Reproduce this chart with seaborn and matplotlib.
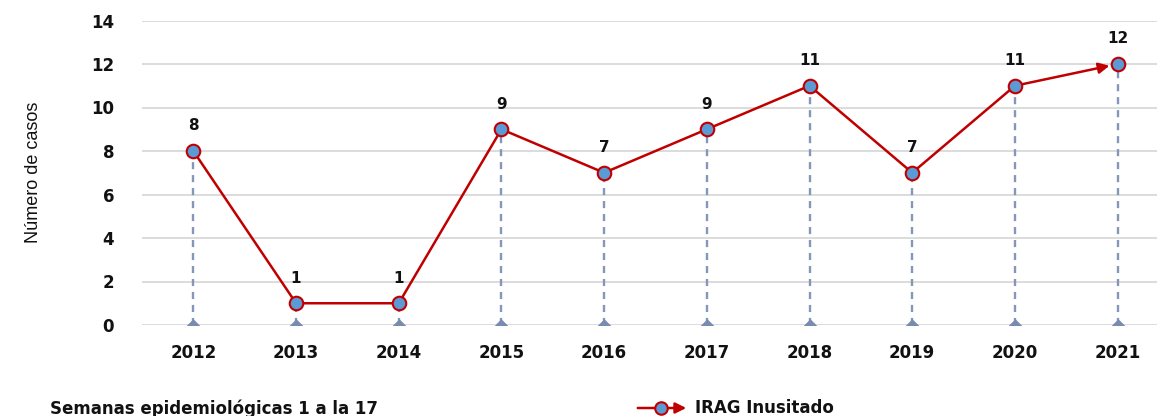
import matplotlib
matplotlib.use("Agg")
import matplotlib.pyplot as plt
import seaborn as sns
import pandas as pd

years = ["2012", "2013", "2014", "2015", "2016", "2017", "2018", "2019", "2020", "2021"]
casos = [8, 1, 1, 9, 7, 9, 11, 7, 11, 12]
y_ticks = [0, 2, 4, 6, 8, 10, 12, 14]
series_name = "IRAG Inusitado"

sns.set_theme(style="white")
plt.rcParams['font.family'] = ['DejaVu Sans']

W, H = 1157, 416
fig = plt.figure(figsize=(W / 100, H / 100), dpi=100)
ax = fig.add_axes([142 / W, (H - 325) / H, (1169 - 142) / W, (325 - 20.5) / H])

df = pd.DataFrame({"pos": range(len(years)), "casos": casos})
red = "#C00000"
blue = "#5B9BD5"
drop = "#8497B8"
txt = "#111111"

for yt in y_ticks:
    ax.axhline(yt, color="#D9D9D9", lw=1.3, zorder=0)

ax.vlines(df["pos"], 0, df["casos"], colors=drop, linestyles=(0, (3, 2.5)), lw=1.7, zorder=1)
flat_tri = [(-2, -1), (2, -1), (0, 1), (-2, -1)]
ax.scatter(df["pos"], [0] * len(df), marker=flat_tri, s=330, color="#7A8BB0", zorder=2, linewidths=0)

sns.lineplot(data=df.iloc[:-1], x="pos", y="casos", color=red, lw=1.8, ax=ax, zorder=3)
ax.annotate("", xy=(df["pos"].iloc[-1], casos[-1]), xytext=(df["pos"].iloc[-2], casos[-2]),
            arrowprops=dict(arrowstyle="-|>", color=red, lw=1.8, mutation_scale=16, shrinkA=0, shrinkB=6),
            zorder=3)
sns.scatterplot(data=df, x="pos", y="casos", marker="o", s=95, color=blue,
                edgecolor=red, linewidth=1.5, ax=ax, zorder=4, legend=False)

for x, v in zip(df["pos"], casos):
    ax.text(x, v + 1.15, str(v), ha="center", va="center", fontsize=11, fontweight="bold", color=txt)

ax.set_xlim(-0.5, len(years) - 0.5)
ax.set_ylim(0, 14)
ax.set_xticks(range(len(years)))
ax.set_xticklabels(years, fontsize=12, fontweight="bold", color=txt)
ax.set_yticks(y_ticks)
ax.set_yticklabels([str(t) for t in y_ticks], fontsize=12, fontweight="bold", color=txt)
ax.tick_params(axis="x", pad=14, length=0)
ax.tick_params(axis="y", pad=20, length=0)
ax.set_xlabel("")
ax.set_ylabel("Número de casos", fontsize=13, family=["Liberation Sans", "DejaVu Sans"],
              color=txt, labelpad=35)
for s in ax.spines.values():
    s.set_visible(False)

fig.text(50 / W, 1 - 409 / H, "Semanas epidemiológicas 1 a la 17", fontsize=12, fontweight="bold",
         color=txt, va="center", ha="left")

# legend (drawn in figure pixel coordinates)
ly = 1 - 408 / H
fig.add_artist(matplotlib.patches.FancyArrowPatch((635 / W, ly), (689 / W, ly), transform=fig.transFigure,
                                                  arrowstyle="-|>", mutation_scale=16, color=red, lw=1.8))
fig.add_artist(matplotlib.lines.Line2D([661 / W], [ly], transform=fig.transFigure, marker="o", markersize=9,
                                       markerfacecolor=blue, markeredgecolor=red, markeredgewidth=1.5))
fig.text(695 / W, ly, series_name, fontsize=12, fontweight="bold", color=txt, va="center", ha="left")

fig.savefig("out.png", dpi=100)
